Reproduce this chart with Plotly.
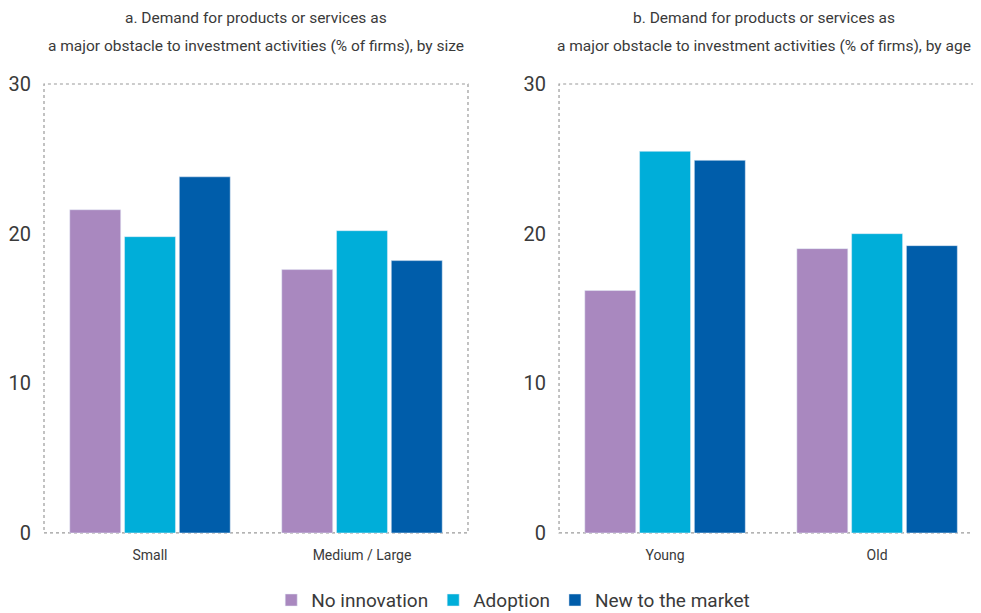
import plotly.graph_objects as go

# data
size_cats = ["Small", "Medium / Large"]
age_cats = ["Young", "Old"]
series = ["No innovation", "Adoption", "New to the market"]
size_vals = {
    "No innovation": [21.6, 17.6],
    "Adoption": [19.8, 20.2],
    "New to the market": [23.8, 18.2],
}
age_vals = {
    "No innovation": [16.2, 19.0],
    "Adoption": [25.5, 20.0],
    "New to the market": [24.9, 19.2],
}
colors = {"No innovation": "#A988BF", "Adoption": "#00AED9", "New to the market": "#005DAA"}
y_ticks = [0, 10, 20, 30]
title_lines = [
    ("a. Demand for products or services as",
     "a major obstacle to investment activities (% of firms), by size"),
    ("b. Demand for products or services as",
     "a major obstacle to investment activities (% of firms), by age"),
]

FONT = "Roboto, sans-serif"
TXT = "#3a3a3a"

fig = go.Figure()
for s in series:
    fig.add_trace(go.Bar(x=size_cats, y=size_vals[s], name=s, marker_color=colors[s],
                         xaxis="x", yaxis="y", legendgroup=s))
    fig.add_trace(go.Bar(x=age_cats, y=age_vals[s], name=s, marker_color=colors[s],
                         xaxis="x2", yaxis="y2", legendgroup=s, showlegend=False))

# page body adds an 8px offset, so domains are shifted to compensate
ydom = [0.1436, 0.876]
axis_common = dict(showgrid=False, zeroline=False, showline=False, automargin=False,
                   ticklabelstandoff=12,
                   tickfont=dict(family=FONT, size=14, color=TXT), ticks="")
yaxis_common = dict(range=[0, 30], tickvals=y_ticks, showgrid=False, zeroline=False,
                    showline=False, ticks="", ticklabelstandoff=12, automargin=False,
                    tickfont=dict(family=FONT, size=20, color=TXT))

fig.update_layout(
    width=981, height=613,
    margin=dict(l=0, r=0, t=0, b=0, autoexpand=False),
    paper_bgcolor="white", plot_bgcolor="white",
    barmode="group", bargap=0.225, bargroupgap=0.07,
    font=dict(family=FONT, color=TXT),
    xaxis=dict(domain=[0.0367, 0.4689], anchor="y", **axis_common),
    yaxis=dict(domain=ydom, anchor="x", **yaxis_common),
    xaxis2=dict(domain=[0.5617, 0.994], anchor="y2", **axis_common),
    yaxis2=dict(domain=ydom, anchor="x2", **yaxis_common),
    legend=dict(orientation="h", x=0.515, xanchor="center", y=0.003, yanchor="bottom",
                font=dict(family=FONT, size=19, color=TXT), itemwidth=30,
                traceorder="normal"),
)

# dotted frames around each panel
for xr, yr in [("x domain", "y domain"), ("x2 domain", "y2 domain")]:
    fig.add_shape(type="rect", xref=xr, yref=yr, x0=0, x1=1, y0=0, y1=1,
                  line=dict(color="#9a9a9a", width=1.2, dash="dot"), layer="below")

# panel titles, two lines each
for (l1, l2), xc in zip(title_lines, [0.2528, 0.771]):
    for txt, yc in [(l1, 0.9837), (l2, 0.938)]:
        fig.add_annotation(text=txt, x=xc, y=yc, xref="paper", yref="paper",
                           xanchor="center", yanchor="middle", showarrow=False,
                           font=dict(family=FONT, size=15.5, color=TXT))

fig.write_html("out.html")
